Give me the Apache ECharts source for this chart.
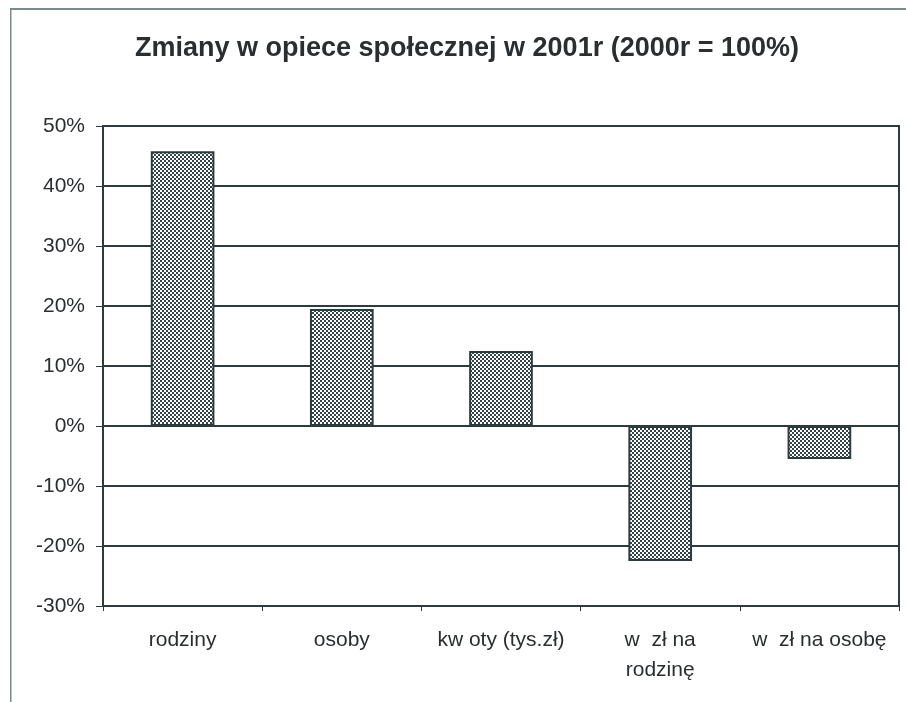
<!DOCTYPE html>
<html>
<head>
<meta charset="utf-8">
<script src="https://cdn.jsdelivr.net/npm/echarts@6/dist/echarts.min.js"></script>
<style>
  html, body { margin: 0; padding: 0; background: #fff; }
  #main { width: 906px; height: 702px; }
</style>
</head>
<body>
<div id="main"></div>
<script>
// dane
var kategorie = ['rodziny', 'osoby', 'kw oty (tys.zł)', 'w  zł na\nrodzinę', 'w  zł na osobę'];
var zmiany = [45.8, 19.5, 12.5, -22.5, -5.5];

// wzór kropkowany jak w oryginale
var wzor = document.createElement('canvas');
wzor.width = 4;
wzor.height = 4;
var ctx = wzor.getContext('2d');
ctx.fillStyle = '#ffffff';
ctx.fillRect(0, 0, 4, 4);
ctx.fillStyle = '#34444a';
ctx.fillRect(0, 0, 2, 2);
ctx.fillRect(2, 2, 2, 2);

var kolorLinii = '#2c3c3e';
var kolorTekstu = '#2a2e30';

var myChart = echarts.init(document.getElementById('main'));

var option = {
  backgroundColor: '#ffffff',
  animation: false,
  title: {
    text: 'Zmiany w opiece społecznej w 2001r (2000r = 100%)',
    left: 462,
    textAlign: 'center',
    top: 30,
    textStyle: {
      fontFamily: 'Liberation Sans, Arial',
      fontSize: 27,
      fontWeight: 'bold',
      color: kolorTekstu
    }
  },
  // ramka wokół wykresu
  graphic: [
    {
      type: 'rect',
      z: 100,
      shape: { x: 10, y: 8, width: 896, height: 2 },
      style: { fill: '#7a8a8a' }
    },
    {
      type: 'rect',
      z: 100,
      shape: { x: 10, y: 8, width: 1.5, height: 694 },
      style: { fill: '#7a8a8a' }
    }
  ],
  grid: {
    left: 103,
    right: 7,
    top: 126,
    bottom: 96,
    show: true,
    borderColor: kolorLinii,
    borderWidth: 2
  },
  xAxis: [
    {
      type: 'category',
      data: kategorie,
      position: 'bottom',
      axisLine: { show: false },
      axisTick: { show: false },
      axisLabel: {
        interval: 0,
        margin: 19,
        fontFamily: 'Liberation Sans, Arial',
        fontSize: 21,
        lineHeight: 30,
        color: kolorTekstu
      }
    },
    {
      type: 'category',
      data: kategorie,
      position: 'bottom',
      axisLine: { show: true, onZero: true, lineStyle: { color: kolorLinii, width: 2 } },
      axisTick: { show: true, length: 5, lineStyle: { color: kolorLinii, width: 1 } },
      axisLabel: { show: false }
    }
  ],
  yAxis: {
    type: 'value',
    min: -30,
    max: 50,
    interval: 10,
    axisLine: { show: true, lineStyle: { color: kolorLinii, width: 2 } },
    axisTick: { show: true, length: 7, lineStyle: { color: kolorLinii, width: 1 } },
    splitLine: { show: true, lineStyle: { color: kolorLinii, width: 2 } },
    axisLabel: {
      margin: 18,
      formatter: '{value}%',
      fontFamily: 'Liberation Sans, Arial',
      fontSize: 21,
      color: kolorTekstu
    }
  },
  series: [
    {
      type: 'bar',
      data: zmiany,
      barWidth: '40%',
      itemStyle: {
        color: { image: wzor, repeat: 'repeat' },
        borderColor: kolorLinii,
        borderWidth: 2
      }
    }
  ]
};

myChart.setOption(option);
</script>
</body>
</html>
